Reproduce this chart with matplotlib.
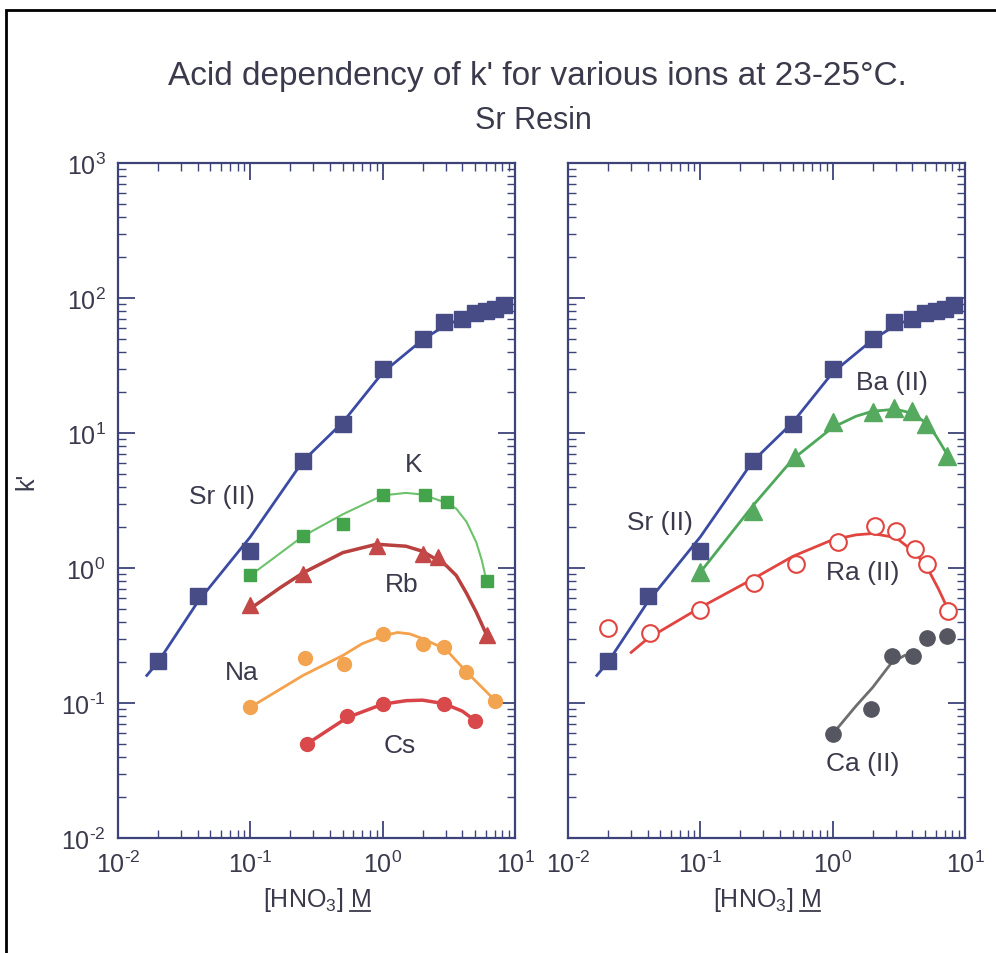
import matplotlib
matplotlib.use('Agg')
import matplotlib.pyplot as plt
from matplotlib.patches import Rectangle
from matplotlib.lines import Line2D
from matplotlib.ticker import FixedLocator, FixedFormatter
from matplotlib.transforms import IdentityTransform

plt.rcParams['font.family'] = ['Liberation Sans', 'DejaVu Sans']
plt.rcParams['mathtext.fontset'] = 'custom'
plt.rcParams['mathtext.rm'] = 'Liberation Sans'
plt.rcParams['mathtext.it'] = 'Liberation Sans:italic'
plt.rcParams['mathtext.default'] = 'regular'

# ---- data ----
# Sr(II), same on both panels
sr_x = [0.02, 0.04, 0.1, 0.25, 0.5, 1.0, 2.0, 2.9, 4.0, 5.0, 6.0, 7.0, 8.2]
sr_y = [0.205, 0.62, 1.34, 6.2, 11.7, 29.8, 49.7, 66, 70, 78, 80, 83, 88]
sr_fit_x = [0.0165, 0.02, 0.04, 0.1, 0.25, 0.5, 1.0, 2.0, 3.0, 5.0, 8.2]
sr_fit_y = [0.16, 0.2, 0.56, 1.7, 6.2, 12, 28, 49, 63, 77, 87]

k_x = [0.1, 0.25, 0.5, 1.0, 2.1, 3.05, 6.1]
k_y = [0.88, 1.72, 2.12, 3.47, 3.47, 3.1, 0.8]
k_fit_x = [0.1, 0.25, 0.5, 1.0, 1.5, 2.0, 3.0, 3.6, 4.3, 5.1, 5.6, 6.1]
k_fit_y = [0.88, 1.72, 2.5, 3.45, 3.6, 3.5, 3.05, 2.75, 2.2, 1.55, 1.15, 0.8]

rb_x = [0.1, 0.25, 0.9, 2.0, 2.6, 6.1]
rb_y = [0.53, 0.9, 1.46, 1.27, 1.2, 0.32]
rb_fit_x = [0.1, 0.17, 0.25, 0.5, 0.9, 1.5, 2.0, 3.0, 3.6, 4.3, 5.1, 6.1]
rb_fit_y = [0.5, 0.72, 0.92, 1.3, 1.5, 1.45, 1.33, 1.05, 0.88, 0.65, 0.47, 0.32]

na_x = [0.1, 0.26, 0.51, 1.0, 2.0, 2.9, 4.3, 7.1]
na_y = [0.093, 0.215, 0.194, 0.324, 0.273, 0.258, 0.169, 0.104]
na_fit_x = [0.1, 0.25, 0.5, 0.7, 1.0, 1.3, 1.6, 2.0, 3.0, 4.3, 7.1]
na_fit_y = [0.093, 0.16, 0.225, 0.275, 0.315, 0.333, 0.325, 0.3, 0.25, 0.17, 0.104]

cs_x = [0.27, 0.54, 1.0, 2.9, 5.0]
cs_y = [0.05, 0.08, 0.098, 0.098, 0.074]
cs_fit_x = [0.27, 0.54, 1.0, 1.5, 2.0, 2.9, 4.0, 5.0]
cs_fit_y = [0.05, 0.078, 0.098, 0.104, 0.105, 0.099, 0.087, 0.074]

ba_x = [0.1, 0.25, 0.52, 1.0, 2.0, 2.9, 4.0, 5.1, 7.3]
ba_y = [0.93, 2.65, 6.6, 12.0, 14.2, 15.2, 14.5, 11.7, 6.8]
ba_fit_x = [0.1, 0.25, 0.5, 1.0, 1.5, 2.0, 3.0, 4.0, 5.0, 6.0, 7.3]
ba_fit_y = [0.93, 2.9, 6.4, 11.0, 13.3, 14.5, 15.0, 14.0, 12.0, 9.6, 7.0]

ra_x = [0.02, 0.042, 0.1, 0.255, 0.53, 1.1, 2.1, 3.0, 4.2, 5.2, 7.4]
ra_y = [0.357, 0.33, 0.49, 0.77, 1.07, 1.55, 2.06, 1.89, 1.38, 1.07, 0.48]
ra_fit_x = [0.03, 0.04, 0.1, 0.25, 0.5, 1.0, 1.5, 2.0, 3.0, 4.2, 5.2, 6.3, 7.4]
ra_fit_y = [0.237, 0.3, 0.51, 0.83, 1.22, 1.62, 1.76, 1.8, 1.68, 1.3, 1.0, 0.7, 0.5]

ca_x = [1.0, 1.94, 2.8, 4.04, 5.14, 7.3]
ca_y = [0.059, 0.091, 0.224, 0.224, 0.301, 0.312]
ca_fit_x = [1.0, 1.5, 2.0, 2.8, 3.5]
ca_fit_y = [0.059, 0.095, 0.13, 0.2, 0.225]

decades_x = [1e-2, 1e-1, 1e0, 1e1]
decades_y = [1e-2, 1e-1, 1e0, 1e1, 1e2, 1e3]
labels_x = ['$10^{\\text{-}2}$', '$10^{\\text{-}1}$', '$10^{0}$', '$10^{1}$']
labels_y = ['$10^{\\text{-}2}$', '$10^{\\text{-}1}$', '$10^{0}$', '$10^{1}$',
            '$10^{2}$', '$10^{3}$']

navy = '#3d4378'
txt = '#3a3a4c'

fig = plt.figure(figsize=(9.96, 9.54), dpi=100)
fig.patches.append(Rectangle((6 / 996, -0.1), 1.2, 1.1 - 11 / 954,
                             transform=fig.transFigure, fill=False,
                             edgecolor='black', lw=2))

fig.text(537 / 996, 1 - 77 / 954, "Acid dependency of k' for various ions at 23-25\u00b0C.",
         ha='center', va='center', fontsize=24, color=txt)
fig.text(533 / 996, 1 - 121 / 954, 'Sr Resin', ha='center', va='center',
         fontsize=22, color=txt)

ax1 = fig.add_axes([118 / 996, 1 - 839 / 954, 397 / 996, 675 / 954])
ax2 = fig.add_axes([568 / 996, 1 - 839 / 954, 397 / 996, 675 / 954])

for ax in (ax1, ax2):
    ax.set_xscale('log')
    ax.set_yscale('log')
    ax.set_xlim(1e-2, 1e1)
    ax.set_ylim(1e-2, 1e3)
    ax.xaxis.set_major_locator(FixedLocator(decades_x))
    ax.xaxis.set_major_formatter(FixedFormatter(labels_x))
    ax.yaxis.set_major_locator(FixedLocator(decades_y))
    ax.yaxis.set_major_formatter(FixedFormatter(labels_y))
    ax.tick_params(which='both', direction='in', top=True, right=True,
                   colors=navy, labelcolor=txt, labelsize=18)
    ax.tick_params(which='major', length=12, width=1.3, pad=9)
    ax.tick_params(which='minor', length=6, width=1.0)
    for s in ax.spines.values():
        s.set_color(navy)
        s.set_linewidth(1.6)
    ax.set_xlabel('[HNO$_3$] M', fontsize=18, color=txt)
    ax.xaxis.set_label_coords(0.5, -0.069)
    # Sr(II)
    ax.plot(sr_fit_x, sr_fit_y, '-', color='#3b4ba4', lw=2, zorder=2)
    ax.plot(sr_x, sr_y, 's', color='#474c86', ms=11, zorder=3)

ax2.tick_params(which='both', labelleft=False)
ax1.set_ylabel("k'", fontsize=18, color=txt)
ax1.yaxis.set_label_coords(-0.2, 0.53)

# left panel
ax1.plot(k_fit_x, k_fit_y, '-', color='#6cc36c', lw=1.5, zorder=2)
ax1.plot(k_x, k_y, 's', color='#43a44c', ms=8, zorder=3)
ax1.plot(rb_fit_x, rb_fit_y, '-', color='#b8403e', lw=2.5, zorder=2)
ax1.plot(rb_x, rb_y, '^', color='#c44848', ms=12, zorder=3)
ax1.plot(na_fit_x, na_fit_y, '-', color='#f4a24c', lw=2, zorder=2)
ax1.plot(na_x, na_y, 'o', color='#f2a450', ms=10, zorder=3)
ax1.plot(cs_fit_x, cs_fit_y, '-', color='#d84448', lw=2.5, zorder=2)
ax1.plot(cs_x, cs_y, 'o', color='#d9494c', ms=10, zorder=3)

lab = dict(fontsize=19, color=txt, ha='center', va='center')
ax1.text(0.061, 3.4, 'Sr (II)', **lab)
ax1.text(1.71, 5.9, 'K', **lab)
ax1.text(1.39, 0.76, 'Rb', **lab)
ax1.text(0.086, 0.169, 'Na', **lab)
ax1.text(1.35, 0.049, 'Cs', **lab)

# right panel
ax2.plot(ba_fit_x, ba_fit_y, '-', color='#4ea85a', lw=2, zorder=2)
ax2.plot(ba_x, ba_y, '^', color='#55aa5f', ms=13, zorder=3)
ax2.plot(ra_fit_x, ra_fit_y, '-', color='#e2443f', lw=2, zorder=2)
ax2.plot(ra_x, ra_y, 'o', mfc='white', mec='#e2443f', mew=1.5, ms=12, zorder=3)
ax2.plot(ca_fit_x, ca_fit_y, '-', color='#6e6e6e', lw=2, zorder=2)
ax2.plot(ca_x, ca_y, 'o', color='#55565f', ms=11, zorder=3)

ax2.text(0.0496, 2.2, 'Sr (II)', **lab)
ax2.text(2.8, 23.8, 'Ba (II)', **lab)
ax2.text(1.7, 0.93, 'Ra (II)', **lab)
ax2.text(1.7, 0.036, 'Ca (II)', **lab)

# underline the M (molar) in both x labels
fig.canvas.draw()
r = fig.canvas.get_renderer()
probe = fig.text(0, 0, 'M', fontsize=18)
mw = probe.get_window_extent(r).width
probe.remove()
for ax in (ax1, ax2):
    bb = ax.xaxis.label.get_window_extent(r)
    y = bb.y0 + 2
    fig.lines.append(Line2D([bb.x1 - mw, bb.x1], [y, y], color=txt, lw=1.3,
                            transform=IdentityTransform()))

fig.savefig('out.png', dpi=100)
